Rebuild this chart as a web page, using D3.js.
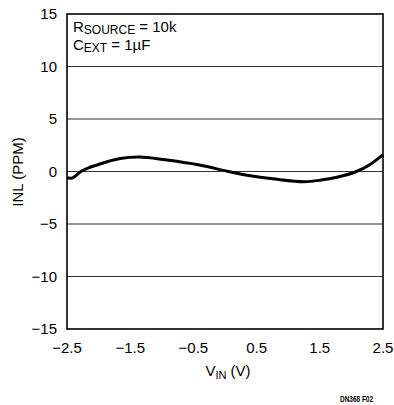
<!DOCTYPE html>
<html><head><meta charset="utf-8">
<script src="https://cdn.jsdelivr.net/npm/d3@7"></script>
<style>
body{margin:0;background:#fff;}
text{font-family:"Liberation Sans Narrow","Arial Narrow","Liberation Sans",Arial,sans-serif;fill:#000;}
</style></head><body>
<svg id="c" width="394" height="405"></svg>
<script>
const vin = [-2.5,-2.41,-2.28,-2.16,-2.0,-1.84,-1.66,-1.35,-0.95,-0.42,0.05,0.40,0.79,1.25,1.52,1.77,2.08,2.29,2.5];
const inl = [-0.6,-0.6,0,0.35,0.67,0.98,1.24,1.38,1.12,0.64,0,-0.4,-0.72,-0.97,-0.82,-0.55,0,0.64,1.6];
const xTicks = [-2.5,-1.5,-0.5,0.5,1.5,2.5];
const xTickLabels = ["\u22122.5","\u22121.5","\u22120.5","0.5","1.5","2.5"];
const yTicks = [-15,-10,-5,0,5,10,15];
const yTickLabels = ["\u221215","\u221210","\u22125","0","5","10","15"];

const svg = d3.select("#c");
const L=67,R=383,T=14,B=329;
const x = d3.scaleLinear().domain([-2.5,2.5]).range([L,R]);
const y = d3.scaleLinear().domain([-15,15]).range([B,T]);

// grid
svg.append("g").selectAll("line").data(yTicks.filter(d=>d>-15&&d<15)).join("line")
  .attr("x1",L).attr("x2",R).attr("y1",d=>y(d)).attr("y2",d=>y(d))
  .attr("stroke","#333").attr("stroke-width",1.2);

// frame
svg.append("rect").attr("x",L).attr("y",T).attr("width",R-L).attr("height",B-T)
  .attr("fill","none").attr("stroke","#000").attr("stroke-width",1.6);

// y tick labels
svg.append("g").selectAll("text").data(yTicks).join("text")
  .attr("x",57).attr("y",d=>y(d)+5).attr("text-anchor","end")
  .attr("font-size",15).text((d,i)=>yTickLabels[i]);

// x tick labels
svg.append("g").selectAll("text").data(xTicks).join("text")
  .attr("x",d=>x(d)).attr("y",353).attr("text-anchor","middle")
  .attr("font-size",15).text((d,i)=>xTickLabels[i]);

// curve
const pts = vin.map((v,i)=>[v,inl[i]]);
svg.append("path").datum(pts)
  .attr("d",d3.line().x(d=>x(d[0])).y(d=>y(d[1])).curve(d3.curveCatmullRom.alpha(0.5)))
  .attr("fill","none").attr("stroke","#000").attr("stroke-width",3)
  .attr("stroke-linejoin","round");

// axis titles
const xt = svg.append("text").attr("x",228).attr("y",376).attr("text-anchor","middle").attr("font-size",15);
xt.append("tspan").text("V");
xt.append("tspan").attr("font-size",11).attr("dy",3).text("IN");
xt.append("tspan").attr("dy",-3).text(" (V)");

svg.append("text").attr("transform","translate(23,172) rotate(-90)")
  .attr("text-anchor","middle").attr("font-size",15).text("INL (PPM)");

// annotations
const a1 = svg.append("text").attr("x",73).attr("y",32).attr("font-size",15);
a1.append("tspan").text("R");
a1.append("tspan").attr("font-size",12).attr("dy",2).text("SOURCE");
a1.append("tspan").attr("dy",-2).text(" = 10k");
const a2 = svg.append("text").attr("x",73).attr("y",50).attr("font-size",15);
a2.append("tspan").text("C");
a2.append("tspan").attr("font-size",12).attr("dy",2).text("EXT");
a2.append("tspan").attr("dy",-2).text(" = 1\u00b5F");

svg.append("text").attr("x",340).attr("y",402)
  .attr("font-size",8.5).attr("font-weight","bold")
  .attr("textLength",33).attr("lengthAdjust","spacingAndGlyphs").text("DN368 F02");
</script></body></html>
